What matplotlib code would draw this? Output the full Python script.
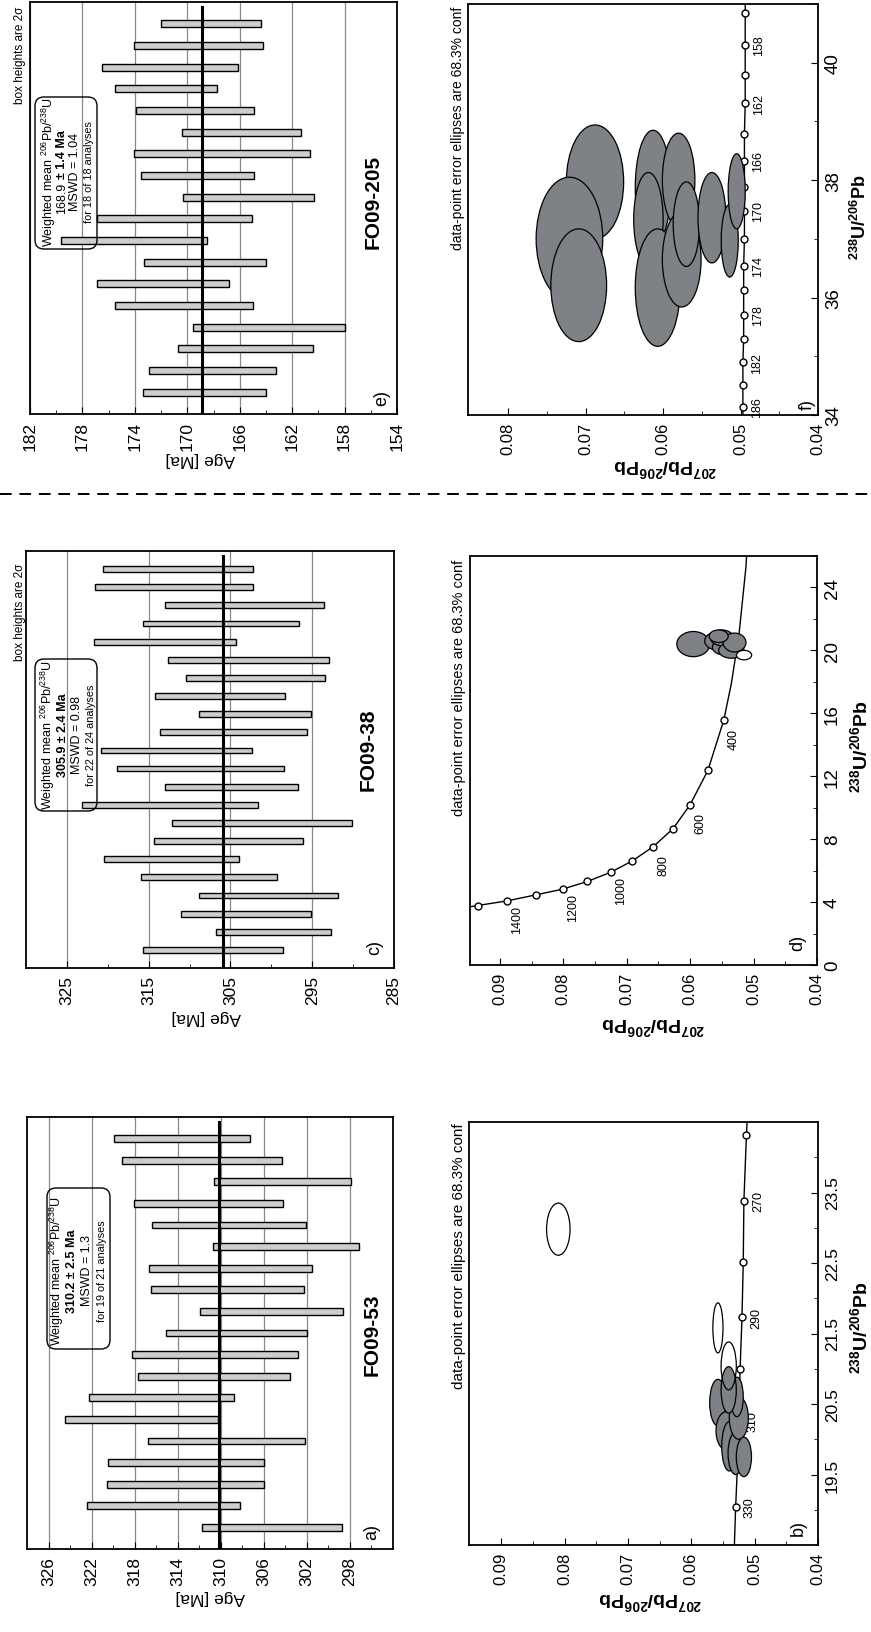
import numpy as np
import matplotlib
matplotlib.use("Agg")
import matplotlib.pyplot as plt
from matplotlib.patches import Ellipse, FancyBboxPatch
from matplotlib.lines import Line2D

W, H = 871, 1633

# ---- a) FO09-53 : 206Pb/238U ages, box = 2 sigma (analysis order) ----
a_hi = [311.7, 322.4, 320.6, 320.5, 316.8, 324.5, 322.2, 317.7, 318.2, 315.1,
        311.9, 316.5, 316.7, 310.7, 316.4, 318.1, 310.6, 319.2, 319.9]
a_lo = [298.7, 308.2, 306.0, 306.0, 302.2, 310.3, 308.8, 303.6, 302.8, 302.0,
        298.6, 302.3, 301.5, 297.2, 302.1, 304.2, 297.9, 304.3, 307.3]
a_mean = 310.2

# ---- c) FO09-38 ----
c_hi = [315.7, 306.8, 311.0, 308.9, 315.9, 320.5, 314.3, 312.2, 323.1, 313.0, 318.9,
        320.8, 313.6, 308.8, 314.2, 310.4, 312.6, 321.7, 315.7, 313.0, 321.6, 320.6]
c_lo = [298.6, 292.7, 295.1, 291.8, 299.3, 303.9, 296.1, 290.1, 301.6, 296.8, 298.4,
        302.4, 295.6, 295.1, 298.3, 293.4, 293.0, 304.3, 296.6, 293.6, 302.2, 302.3]
c_mean = 305.9

# ---- e) FO09-205 ----
e_hi = [173.4, 172.9, 170.7, 169.6, 175.5, 176.9, 173.3, 179.6, 176.9, 170.3,
        173.5, 174.1, 170.4, 173.9, 175.5, 176.5, 174.1, 172.0]
e_lo = [164.0, 163.2, 160.4, 158.0, 165.0, 166.8, 164.0, 168.5, 165.1, 160.3,
        164.9, 160.6, 161.3, 164.9, 167.7, 166.1, 164.2, 164.4]
e_mean = 168.9

# ---- b) concordia FO09-53 (238U/206Pb, 207Pb/206Pb) ----
b_curve_u = [18.5, 19.04, 19.66, 20.27, 20.99, 21.73, 22.52, 23.38, 24.31, 24.5]
b_curve_pb = [0.0532, 0.0530, 0.0527, 0.0525, 0.0523, 0.0520, 0.0518, 0.0517, 0.0513, 0.0512]
b_mark_age = [330, 320, 310, 300, 290, 280, 270, 260]
b_mark_u = [19.04, 19.66, 20.27, 20.99, 21.73, 22.52, 23.38, 24.31]
b_mark_pb = [0.0530, 0.0527, 0.0525, 0.0523, 0.0520, 0.0518, 0.0517, 0.0513]
b_label_age = [330, 310, 290, 270]
b_ell_u = [20.52, 20.12, 19.90, 19.80, 20.30, 20.60, 20.70, 19.75]
b_ell_pb = [0.0558, 0.0545, 0.0540, 0.0530, 0.0525, 0.0528, 0.0541, 0.0517]
b_ell_du = [0.33, 0.27, 0.35, 0.30, 0.30, 0.28, 0.33, 0.28]
b_ell_dpb = [0.0013, 0.0016, 0.0012, 0.0012, 0.0015, 0.0010, 0.0012, 0.0012]
b_out_u = [21.58, 21.04, 22.98]
b_out_pb = [0.0558, 0.0541, 0.0810]
b_out_du = [0.355, 0.34, 0.37]
b_out_dpb = [0.0008, 0.0012, 0.00185]

# ---- d) concordia FO09-38 ----
d_curve_u = [3.70, 3.78, 4.08, 4.46, 4.82, 5.31, 5.90, 6.62, 7.53, 8.66, 10.19,
             12.37, 15.56, 17.9, 21.0, 25.3, 26.0]
d_curve_pb = [0.0947, 0.0935, 0.0888, 0.0843, 0.0801, 0.0762, 0.0725, 0.0691, 0.0658,
              0.0627, 0.0600, 0.0572, 0.0547, 0.0535, 0.0523, 0.0512, 0.0511]
d_mark_age = [1500, 1400, 1300, 1200, 1100, 1000, 900, 800, 700, 600, 500, 400]
d_mark_u = [3.78, 4.08, 4.46, 4.82, 5.31, 5.90, 6.62, 7.53, 8.66, 10.19, 12.37, 15.56]
d_mark_pb = [0.0935, 0.0888, 0.0843, 0.0801, 0.0762, 0.0725, 0.0691, 0.0658, 0.0627,
             0.0600, 0.0572, 0.0547]
d_label_age = [1400, 1200, 1000, 800, 600, 400]
d_ell_u = [20.4, 20.6, 20.2, 20.8, 20.0, 20.5, 20.9]
d_ell_pb = [0.0595, 0.0555, 0.0545, 0.0550, 0.0535, 0.0530, 0.0555]
d_ell_du = [0.8, 0.6, 0.5, 0.5, 0.5, 0.6, 0.4]
d_ell_dpb = [0.0026, 0.0022, 0.0020, 0.0018, 0.0020, 0.0018, 0.0015]
d_out_u = [19.7]
d_out_pb = [0.0515]
d_out_du = [0.3]
d_out_dpb = [0.0012]

# ---- f) concordia FO09-205 ----
f_curve_u = [34.0, 34.14, 34.51, 34.90, 35.30, 35.71, 36.13, 36.54, 37.00, 37.48,
             37.88, 38.33, 38.79, 39.31, 39.79, 40.31, 40.84, 41.0]
f_curve_pb = [0.0497, 0.0497, 0.0497, 0.0497, 0.0496, 0.0496, 0.0496, 0.0496, 0.0495,
              0.0495, 0.0495, 0.0495, 0.0495, 0.0494, 0.0494, 0.0494, 0.0494, 0.0494]
f_mark_age = [186, 184, 182, 180, 178, 176, 174, 172, 170, 168, 166, 164, 162, 160, 158, 156]
f_label_age = [186, 182, 178, 174, 170, 166, 162, 158]
f_ell_u = [37.97, 37.00, 36.21, 37.87, 38.00, 37.33, 36.17, 36.65, 37.25, 37.36, 36.97, 37.81]
f_ell_pb = [0.0688, 0.0721, 0.0709, 0.0613, 0.0580, 0.0619, 0.0607, 0.0576, 0.0570,
            0.0537, 0.0514, 0.0505]
f_ell_du = [0.97, 1.05, 0.96, 0.98, 0.80, 0.80, 1.00, 0.81, 0.72, 0.77, 0.62, 0.64]
f_ell_dpb = [0.0037, 0.0043, 0.0036, 0.0023, 0.0021, 0.0019, 0.0029, 0.0025, 0.0017,
             0.0018, 0.0011, 0.0011]

FONT = "Liberation Sans"
plt.rcParams["font.family"] = [FONT, "DejaVu Sans"]
plt.rcParams["mathtext.fontset"] = "custom"
plt.rcParams["mathtext.rm"] = FONT
plt.rcParams["mathtext.bf"] = FONT + ":bold"
plt.rcParams["mathtext.it"] = FONT + ":italic"

fig = plt.figure(figsize=(W / 100, H / 100), dpi=100)


def axes_px(x0, y0, x1, y1):
    return fig.add_axes([x0 / W, 1 - y1 / H, (x1 - x0) / W, (y1 - y0) / H])


def ftext(px, py, s, **kw):
    kw.setdefault("ha", "center")
    kw.setdefault("va", "center")
    return fig.text(px / W, 1 - py / H, s, **kw)


def hist_panel(box, lo, hi, mean, xlim, majors, minors):
    ax = axes_px(*box)
    n = len(lo)
    idx = np.arange(1, n + 1)
    ax.set_xlim(*xlim)
    ax.set_ylim(0, n + 1)
    for g in majors:
        ax.axvline(g, color="#8a8a8a", lw=0.9, zorder=1)
    ax.barh(idx, np.array(hi) - np.array(lo), left=lo, height=0.32,
            color="#cdcdcd", edgecolor="k", lw=1.0, zorder=3)
    ax.axvline(mean, ymin=0, ymax=(n + 0.75) / (n + 1), color="k", lw=2.2, zorder=4)
    ax.set_xticks(majors)
    ax.set_xticks(minors, minor=True)
    ax.set_xticklabels([str(m) for m in majors])
    ax.tick_params(axis="x", which="both", direction="in", top=False,
                   labelrotation=90, labelsize=12.5, pad=5)
    ax.tick_params(axis="x", which="major", length=5)
    ax.tick_params(axis="x", which="minor", length=3)
    ax.set_yticks([])
    for s in ax.spines.values():
        s.set_linewidth(1.3)
    return ax


def conc_panel(box, xlim, ylim, xmaj, xmin, ymaj, ymin, ylabels, ysize,
               cu, cpb, mu, mpb, mage, lab_age, off,
               eu, epb, edu, edpb, ou, opb, odu, odpb, ofill):
    ax = axes_px(*box)
    ax.set_xlim(*xlim)
    ax.set_ylim(*ylim)
    ax.plot(cpb, cu, color="k", lw=1.0, zorder=2)
    ax.plot(mpb, mu, "o", ms=5, mfc="white", mec="k", mew=1.0, zorder=2.5)
    for age, u, pb in zip(mage, mu, mpb):
        if age in lab_age:
            ax.annotate(str(age), (pb, u), xytext=off, textcoords="offset pixels",
                        rotation=90, ha="center", va="center", fontsize=9, zorder=2)
    for u, pb, du, dpb in zip(eu, epb, edu, edpb):
        ax.add_patch(Ellipse((pb, u), 2 * dpb, 2 * du, facecolor="#7e8185",
                             edgecolor="k", lw=0.9, zorder=3))
    for u, pb, du, dpb in zip(ou, opb, odu, odpb):
        ax.add_patch(Ellipse((pb, u), 2 * dpb, 2 * du, facecolor=ofill,
                             edgecolor="k", lw=0.9, zorder=3.5))
    ax.set_xticks(xmaj)
    ax.set_xticks(xmin, minor=True)
    ax.set_xticklabels(["%.2f" % v for v in xmaj])
    ax.yaxis.tick_right()
    ax.set_yticks(ymaj)
    ax.set_yticks(ymin, minor=True)
    ax.set_yticklabels(ylabels)
    ax.tick_params(axis="x", which="both", direction="in", top=False,
                   labelrotation=90, labelsize=12, pad=5)
    ax.tick_params(axis="y", which="both", direction="in", left=False, right=True,
                   labelrotation=90, labelsize=ysize, pad=5)
    ax.tick_params(which="major", length=5)
    ax.tick_params(which="minor", length=3)
    for t in ax.get_yticklabels():
        t.set_va("center")
    for s in ax.spines.values():
        s.set_linewidth(1.3)
    return ax


# histogram panels
hist_panel((27, 1118, 393, 1550), a_lo, a_hi, a_mean, (328, 294),
           [298, 302, 306, 310, 314, 318, 322, 326], [296, 300, 304, 308, 312, 316, 320, 324])
hist_panel((26, 552, 394, 969), c_lo, c_hi, c_mean, (330, 285),
           [285, 295, 305, 315, 325], [290, 300, 310, 320])
hist_panel((30, 3, 397, 415), e_lo, e_hi, e_mean, (182, 154),
           [154, 158, 162, 166, 170, 174, 178, 182], [156, 160, 164, 168, 172, 176, 180])

# concordia panels
conc_panel((469, 1123, 818, 1546), (0.0951, 0.04), (18.5, 24.5),
           [0.04, 0.05, 0.06, 0.07, 0.08, 0.09], [0.045, 0.055, 0.065, 0.075, 0.085],
           [19.5, 20.5, 21.5, 22.5, 23.5], [19, 20, 21, 22, 23, 24],
           ["19.5", "20.5", "21.5", "22.5", "23.5"], 12.5,
           b_curve_u, b_curve_pb, b_mark_u, b_mark_pb, b_mark_age, b_label_age, (14, 0),
           b_ell_u, b_ell_pb, b_ell_du, b_ell_dpb, b_out_u, b_out_pb, b_out_du, b_out_dpb, "none")
conc_panel((470, 557, 817, 966), (0.0947, 0.04), (0, 26),
           [0.04, 0.05, 0.06, 0.07, 0.08, 0.09], [0.045, 0.055, 0.065, 0.075, 0.085],
           [0, 4, 8, 12, 16, 20, 24], [2, 6, 10, 14, 18, 22, 26],
           ["0", "4", "8", "12", "16", "20", "24"], 13.5,
           d_curve_u, d_curve_pb, d_mark_u, d_mark_pb, d_mark_age, d_label_age, (10, -18),
           d_ell_u, d_ell_pb, d_ell_du, d_ell_dpb, d_out_u, d_out_pb, d_out_du, d_out_dpb, "white")
f_mark_u = f_curve_u[1:-1]
f_mark_pb = f_curve_pb[1:-1]
conc_panel((468, 5, 818, 416), (0.0852, 0.04), (34, 41.0),
           [0.04, 0.05, 0.06, 0.07, 0.08], [0.045, 0.055, 0.065, 0.075],
           [34, 36, 38, 40], [35, 37, 39, 41], ["34", "36", "38", "40"], 13.5,
           f_curve_u, f_curve_pb, f_mark_u, f_mark_pb, f_mark_age, f_label_age, (14, 0),
           f_ell_u, f_ell_pb, f_ell_du, f_ell_dpb, [], [], [], [], "none")

# outer labels
for px, py in [(210, 1598), (206, 1018), (200, 460)]:
    ftext(px, py, "Age [Ma]", rotation=180, fontsize=12.5)
pb_lab = r"$\mathbf{^{207}Pb/^{206}Pb}$"
u_lab = r"$\mathbf{^{238}U/^{206}Pb}$"
for px, py in [(650, 1600), (653, 1025), (665, 467)]:
    ftext(px, py, pb_lab, rotation=180, fontsize=14)
for px, py, fs in [(860, 1328, 14), (860, 747, 14), (860, 217, 13)]:
    ftext(px, py, u_lab, rotation=90, fontsize=fs)
for px, py, fs in [(459, 1123, 11), (459, 560, 10.5), (458, 7, 10)]:
    ftext(px, py, "data-point error ellipses are 68.3% conf", rotation=90,
          va="top", fontsize=fs)
for px, py in [(20, 564), (20, 7)]:
    ftext(px, py, "box heights are 2\u03c3", rotation=90, va="top", fontsize=8.5)
for px, py, s in [(372, 1335, "FO09-53"), (368, 750, "FO09-38"), (373, 202, "FO09-205")]:
    ftext(px, py, s, rotation=90, fontsize=15, weight="bold")
for px, py, s in [(372, 1532, "a)"), (375, 948, "c)"), (382, 398, "e)"),
                  (798, 1528, "b)"), (798, 943, "d)"), (807, 405, "f)")]:
    ftext(px, py, s, rotation=90, fontsize=13)

# weighted-mean boxes
wm = r"Weighted mean $^{206}$Pb/$^{238}$U"
boxes = [
    ((47, 1189, 110, 1350), [57, 72, 87, 102], 1271, "310.2 \u00b1 2.5 Ma", "MSWD = 1.3", "for 19 of 21 analyses"),
    ((35, 660, 97, 812), [48, 63, 77, 91], 735, "305.9 \u00b1 2.4 Ma", "MSWD = 0.98", "for 22 of 24 analyses"),
    ((35, 98, 97, 250), [49, 62, 75, 89], 172, None, "MSWD = 1.04", "for 18 of 18 analyses"),
]
renderer = fig.canvas.get_renderer()
for (x0, y0, x1, y1), xs, yc, l2, l3, l4 in boxes:
    fig.add_artist(FancyBboxPatch((x0 / 100, (H - y1) / 100), (x1 - x0) / 100, (y1 - y0) / 100,
                                  boxstyle="round,pad=0,rounding_size=0.09",
                                  transform=fig.dpi_scale_trans, facecolor="none",
                                  edgecolor="k", lw=1.0))
    ftext(xs[0], yc, wm, rotation=90, fontsize=9)
    if l2 is not None:
        ftext(xs[1], yc, l2, rotation=90, fontsize=9, weight="bold")
    else:
        t1 = ftext(xs[1], 0, "168.9", rotation=90, fontsize=9, va="bottom")
        t2 = ftext(xs[1], 0, "\u00b1 1.4 Ma", rotation=90, fontsize=9, va="bottom", weight="bold")
        h1 = t1.get_window_extent(renderer).height
        h2 = t2.get_window_extent(renderer).height
        gap = 3
        start = yc + (h1 + h2 + gap) / 2
        t1.set_position((xs[1] / W, 1 - start / H))
        t2.set_position((xs[1] / W, 1 - (start - h1 - gap) / H))
    ftext(xs[2], yc, l3, rotation=90, fontsize=9)
    ftext(xs[3], yc, l4, rotation=90, fontsize=7.8)

# dashed divider
fig.add_artist(Line2D([0, 1], [1 - 495 / H] * 2, transform=fig.transFigure,
                      color="k", lw=1.4, ls=(0, (6, 4))))

fig.savefig("out.png", dpi=100)
